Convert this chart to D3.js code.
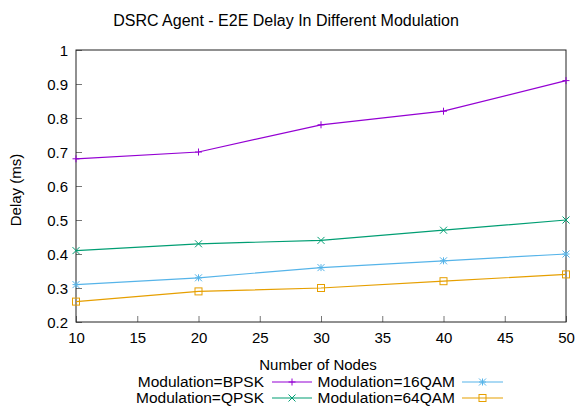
<!DOCTYPE html>
<html>
<head>
<meta charset="utf-8">
<script src="https://cdn.jsdelivr.net/npm/d3@7"></script>
<style>
  html, body { margin: 0; padding: 0; background: #fff; }
  svg { display: block; font-family: "Liberation Sans", Arial, sans-serif; }
</style>
</head>
<body>
<svg id="chart" width="575" height="406"></svg>
<script>
// Number of nodes on the x axis
const nodes = [10, 20, 30, 40, 50];

// End-to-end delay (ms) per modulation scheme
const bpsk  = [0.68, 0.70, 0.78, 0.82, 0.91];
const qpsk  = [0.41, 0.43, 0.44, 0.47, 0.50];
const qam16 = [0.31, 0.33, 0.36, 0.38, 0.40];
const qam64 = [0.26, 0.29, 0.30, 0.32, 0.34];

const seriesNames = ["Modulation=BPSK", "Modulation=QPSK", "Modulation=16QAM", "Modulation=64QAM"];
const xTicks = [10, 15, 20, 25, 30, 35, 40, 45, 50];
const yTicks = [0.2, 0.3, 0.4, 0.5, 0.6, 0.7, 0.8, 0.9, 1];

const series = [
  { name: seriesNames[0], values: bpsk,  color: "#9400d3", marker: "plus" },
  { name: seriesNames[1], values: qpsk,  color: "#009e73", marker: "cross" },
  { name: seriesNames[2], values: qam16, color: "#56b4e9", marker: "star" },
  { name: seriesNames[3], values: qam64, color: "#e69f00", marker: "square" }
];

const svg = d3.select("#chart");
const plotLeft = 76, plotRight = 566, plotTop = 50, plotBottom = 322;

const x = d3.scaleLinear().domain([10, 50]).range([plotLeft, plotRight]);
const y = d3.scaleLinear().domain([0.2, 1]).range([plotBottom, plotTop]);

// Title
svg.append("text")
  .attr("x", 286).attr("y", 26)
  .attr("text-anchor", "middle")
  .attr("font-size", 16)
  .attr("fill", "#000")
  .text("DSRC Agent - E2E Delay In Different Modulation");

// Axes with inward ticks
const xAxis = d3.axisBottom(x).tickValues(xTicks).tickSize(-6).tickPadding(0).tickFormat(d3.format("d"));
const yAxis = d3.axisLeft(y).tickValues(yTicks).tickSize(-6).tickPadding(0).tickFormat(d => d === 1 ? "1" : d3.format(".1f")(d));

const gx = svg.append("g").attr("transform", `translate(0,${plotBottom})`).call(xAxis);
gx.select(".domain").remove();
gx.selectAll(".tick line").attr("stroke", "#777").attr("stroke-width", 1);
gx.selectAll(".tick text")
  .attr("y", 16).attr("dy", "0.35em")
  .attr("font-size", 15).attr("font-family", null).attr("fill", "#000");

const gy = svg.append("g").attr("transform", `translate(${plotLeft},0)`).call(yAxis);
gy.select(".domain").remove();
gy.selectAll(".tick line").attr("stroke", "#777").attr("stroke-width", 1);
gy.selectAll(".tick text")
  .attr("x", -8).attr("dy", "0.35em")
  .attr("font-size", 15).attr("font-family", null).attr("fill", "#000");

// Plot border
svg.append("rect")
  .attr("x", plotLeft).attr("y", plotTop)
  .attr("width", plotRight - plotLeft).attr("height", plotBottom - plotTop)
  .attr("fill", "none").attr("stroke", "#222").attr("stroke-width", 1);

// Axis titles
svg.append("text")
  .attr("transform", `translate(16,${(plotTop + plotBottom) / 2 + 4}) rotate(-90)`)
  .attr("text-anchor", "middle").attr("dy", "0.35em")
  .attr("font-size", 15)
  .text("Delay (ms)");

svg.append("text")
  .attr("x", 318).attr("y", 365).attr("dy", "0.35em")
  .attr("text-anchor", "middle")
  .attr("font-size", 15)
  .text("Number of Nodes");

// Marker drawing
function drawMarker(g, type, cx, cy, color) {
  const s = 3.5;
  if (type === "plus" || type === "star") {
    g.append("path").attr("d", `M${cx - s},${cy}H${cx + s}M${cx},${cy - s}V${cy + s}`)
      .attr("stroke", color).attr("stroke-width", 1).attr("fill", "none");
  }
  if (type === "cross" || type === "star") {
    g.append("path").attr("d", `M${cx - s},${cy - s}L${cx + s},${cy + s}M${cx - s},${cy + s}L${cx + s},${cy - s}`)
      .attr("stroke", color).attr("stroke-width", 1).attr("fill", "none");
  }
  if (type === "square") {
    g.append("rect").attr("x", cx - s).attr("y", cy - s).attr("width", 2 * s).attr("height", 2 * s)
      .attr("stroke", color).attr("stroke-width", 1).attr("fill", "none");
  }
}

const line = d3.line().x((d, i) => x(nodes[i])).y(d => y(d));

const plot = svg.append("g");
series.forEach(s => {
  plot.append("path")
    .datum(s.values)
    .attr("d", line)
    .attr("fill", "none")
    .attr("stroke", s.color)
    .attr("stroke-width", 1.2);
  const mg = plot.append("g");
  s.values.forEach((v, i) => drawMarker(mg, s.marker, x(nodes[i]), y(v), s.color));
});

// Legend: two columns, two rows
const legendPos = [
  { textX: 264, lineX0: 272, lineX1: 312, cy: 382 },
  { textX: 264, lineX0: 272, lineX1: 312, cy: 398 },
  { textX: 455, lineX0: 462, lineX1: 503, cy: 382 },
  { textX: 455, lineX0: 462, lineX1: 503, cy: 398 }
];
const legend = svg.append("g");
series.forEach((s, i) => {
  const p = legendPos[i];
  legend.append("text")
    .attr("x", p.textX).attr("y", p.cy).attr("dy", "0.35em")
    .attr("text-anchor", "end")
    .attr("font-size", 15.5)
    .text(s.name);
  legend.append("line")
    .attr("x1", p.lineX0).attr("x2", p.lineX1)
    .attr("y1", p.cy).attr("y2", p.cy)
    .attr("stroke", s.color).attr("stroke-width", 1.2);
  drawMarker(legend, s.marker, (p.lineX0 + p.lineX1) / 2, p.cy, s.color);
});
</script>
</body>
</html>
